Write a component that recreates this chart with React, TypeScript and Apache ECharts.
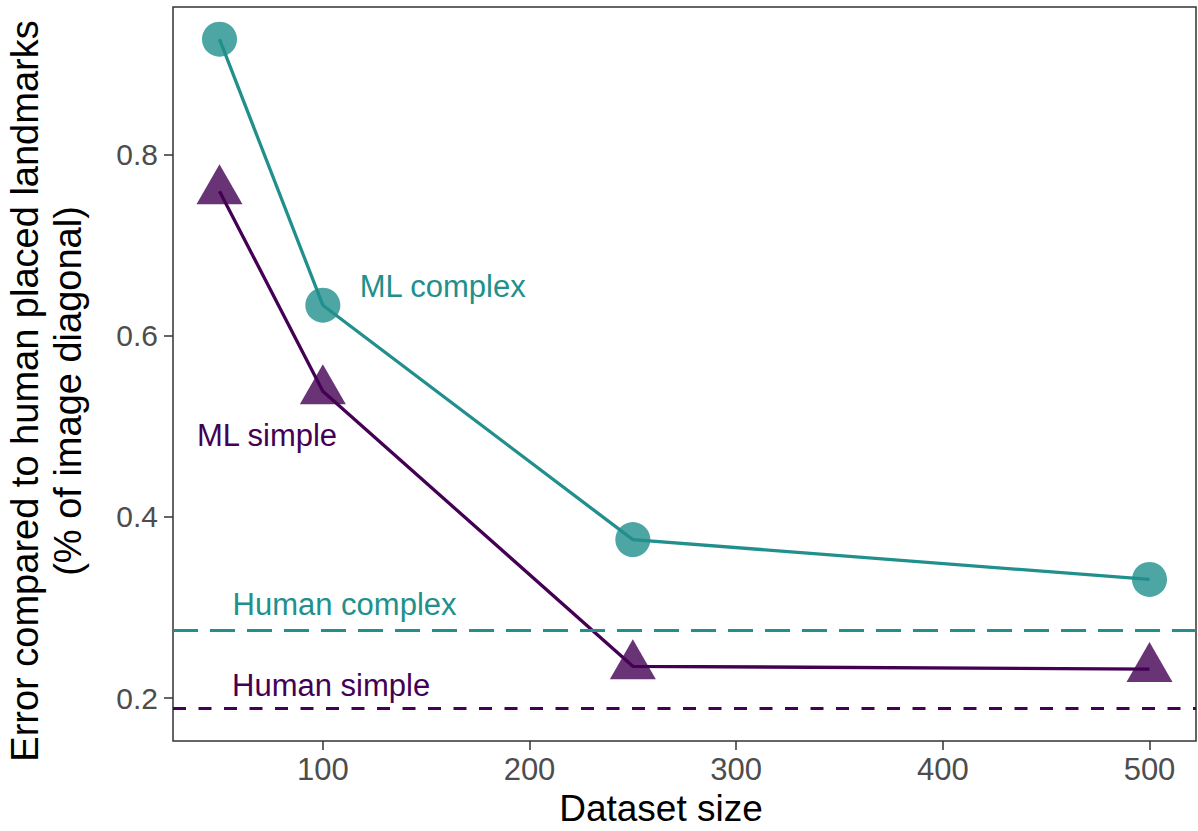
import React, { useEffect, useRef } from "react";
import * as echarts from "echarts";

const xValues = [50, 100, 250, 500];
const mlComplex = [0.928, 0.634, 0.375, 0.331];
const mlSimple = [0.76, 0.539, 0.235, 0.232];
const humanComplex = 0.275;
const humanSimple = 0.189;
const xTicks = [100, 200, 300, 400, 500];
const yTicks = [0.2, 0.4, 0.6, 0.8];
const annotationTexts = ["ML complex", "ML simple", "Human complex", "Human simple"];
const annotationX = [158, 73, 110.5, 104];
const annotationY = [0.655, 0.49, 0.303, 0.214];

const TEAL = "#21908C";
const PURPLE = "#440154";
const annotationColors = [TEAL, PURPLE, TEAL, PURPLE];
const FONT = "'Liberation Sans', Arial, Helvetica, sans-serif";

export default function App() {
  const ref = useRef<HTMLDivElement>(null);
  useEffect(() => {
    document.body.style.margin = "0";
    const chart = echarts.init(ref.current!, null, { renderer: "svg" });
    const pts = (ys: number[]) => xValues.map((x, i) => [x, ys[i]]);
    chart.setOption({
      animation: false,
      backgroundColor: "#ffffff",
      grid: {
        left: 173,
        top: 7,
        width: 1023,
        height: 734,
        show: true,
        borderColor: "#333333",
        borderWidth: 1.5,
        backgroundColor: "transparent",
      },
      xAxis: {
        type: "value",
        min: 27.5,
        max: 522.5,
        axisLine: { show: false },
        splitLine: { show: false },
        axisTick: {
          show: true,
          length: 9,
          lineStyle: { color: "#333333", width: 1.5 },
          customValues: xTicks,
        },
        axisLabel: {
          customValues: xTicks,
          margin: 13,
          fontSize: 31,
          color: "#4d4d4d",
          fontFamily: FONT,
        },
      },
      yAxis: {
        type: "value",
        min: 0.1525,
        max: 0.9635,
        axisLine: { show: false },
        splitLine: { show: false },
        axisTick: {
          show: true,
          length: 9,
          lineStyle: { color: "#333333", width: 1.5 },
          customValues: yTicks,
        },
        axisLabel: {
          customValues: yTicks,
          margin: 15,
          fontSize: 30,
          color: "#4d4d4d",
          fontFamily: FONT,
          formatter: (v: number) => v.toFixed(1),
        },
      },
      graphic: [
        {
          type: "text",
          x: 46,
          y: 391,
          rotation: Math.PI / 2,
          style: {
            text: "Error compared to human placed landmarks\n(% of image diagonal)",
            align: "center",
            verticalAlign: "middle",
            fontSize: 38,
            lineHeight: 43,
            fontFamily: FONT,
            fill: "#000000",
          },
        },
        {
          type: "text",
          x: 661,
          y: 808,
          style: {
            text: "Dataset size",
            align: "center",
            verticalAlign: "middle",
            fontSize: 37,
            fontFamily: FONT,
            fill: "#000000",
          },
        },
      ],
      series: [
        {
          type: "scatter",
          name: "ML complex points",
          data: pts(mlComplex),
          symbol: "circle",
          symbolSize: 35,
          itemStyle: { color: TEAL, opacity: 0.8 },
          z: 2,
        },
        {
          type: "scatter",
          name: "ML simple points",
          data: pts(mlSimple),
          symbol: "triangle",
          symbolSize: [46, 40],
          symbolOffset: [0, -7],
          itemStyle: { color: PURPLE, opacity: 0.8 },
          z: 2,
        },
        {
          type: "line",
          name: "ML complex",
          data: pts(mlComplex),
          showSymbol: false,
          symbol: "none",
          lineStyle: { color: TEAL, width: 3.3 },
          z: 3,
          markLine: {
            silent: true,
            symbol: "none",
            precision: 4,
            label: { show: false },
            lineStyle: { color: TEAL, width: 3, type: [25, 12] },
            data: [{ yAxis: humanComplex }],
          },
        },
        {
          type: "line",
          name: "ML simple",
          data: pts(mlSimple),
          showSymbol: false,
          symbol: "none",
          lineStyle: { color: PURPLE, width: 3.3 },
          z: 3,
          markLine: {
            silent: true,
            symbol: "none",
            precision: 4,
            label: { show: false },
            lineStyle: { color: PURPLE, width: 3, type: [13, 12.5] },
            data: [{ yAxis: humanSimple }],
          },
        },
        {
          type: "scatter",
          name: "annotations",
          symbolSize: 0,
          silent: true,
          z: 4,
          itemStyle: { opacity: 1 },
          data: annotationTexts.map((t, i) => ({
            name: t,
            value: [annotationX[i], annotationY[i]],
            label: { color: annotationColors[i] },
          })),
          label: {
            show: true,
            position: "inside",
            formatter: (p: any) => p.name,
            fontSize: 31,
            fontFamily: FONT,
          },
        },
      ],
    });
    return () => chart.dispose();
  }, []);
  return <div ref={ref} style={{ width: 1198, height: 831 }} />;
}
